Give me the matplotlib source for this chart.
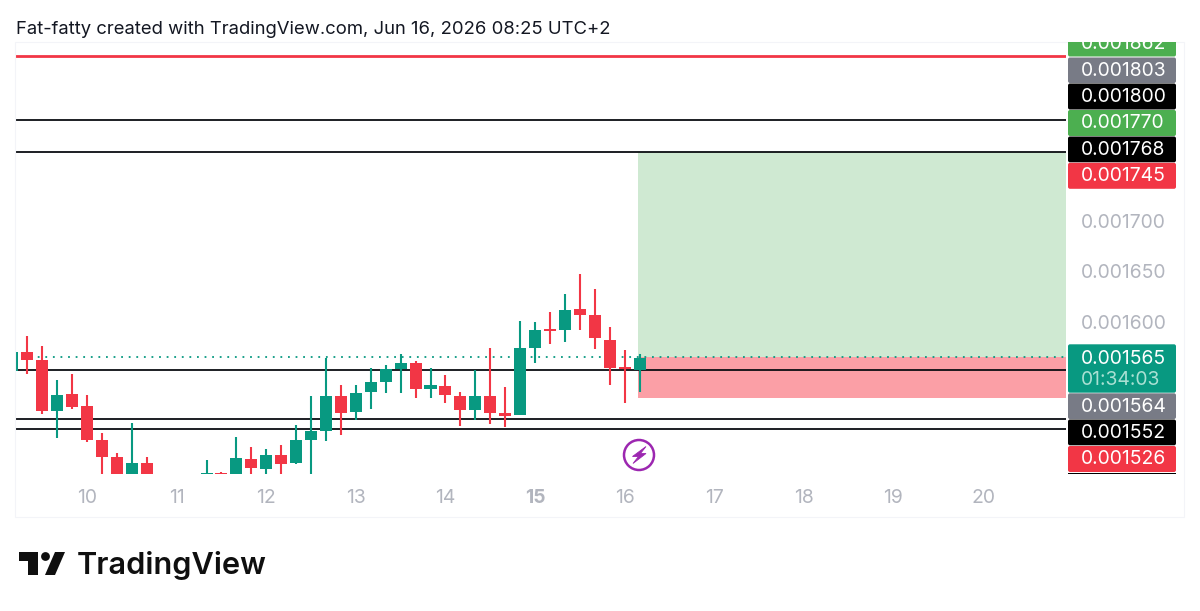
import matplotlib
matplotlib.use("Agg")
import matplotlib.pyplot as plt
from matplotlib.patches import FancyBboxPatch, Rectangle, Polygon, Circle

plt.rcParams['font.family'] = ['Inter', 'DejaVu Sans']

# 4h candles, prices in millionths (1e-6), index counted from day 10 00:00
candle_idx = list(range(-5, 38))
opens = [1551.5, 1570, 1562.7, 1511.9, 1528.7, 1517.2, 1483.5, 1466.7, 1445, 1460.4,
         1445, 1440, 1438, 1449, 1450.9, 1445, 1464.4, 1454.5, 1468.7, 1460,
         1483.5, 1492.4, 1526.8, 1510.6, 1530.7, 1540.6, 1553.8, 1559.8, 1534, 1536.3,
         1526.8, 1512.6, 1526.8, 1509.9, 1507.6, 1574.6, 1593.4, 1592, 1612.6, 1607,
         1582.5, 1555.5, 1552.5]
closes = [1570, 1562.7, 1511.9, 1527.8, 1516.2, 1483.5, 1466.7, 1445, 1460.4, 1445,
          1440, 1438, 1449, 1450.9, 1445, 1465.7, 1455.8, 1468.7, 1459.4, 1483.5,
          1492.4, 1526.8, 1509.6, 1529.7, 1540.6, 1553.8, 1559.4, 1534, 1537.6, 1527.7,
          1512.6, 1526.8, 1509.6, 1507.3, 1574.6, 1592.4, 1591.4, 1612.2, 1607, 1583.9,
          1554.5, 1553.8, 1564.7]
highs = [1570, 1586, 1576.6, 1542.6, 1548.9, 1527.8, 1489.8, 1470, 1499.7, 1466,
         1446, 1445, 1449, 1463.4, 1451.9, 1486.5, 1476, 1474, 1478, 1497.7,
         1526.8, 1564.7, 1537.3, 1537.3, 1554.2, 1557.4, 1568, 1561, 1554.2, 1547.9,
         1530.7, 1552.5, 1574.6, 1535.7, 1600.7, 1599.7, 1610.2, 1627.4, 1647.2, 1632.7,
         1594.7, 1572.3, 1568]
lows = [1551.5, 1548.5, 1509.3, 1484.9, 1514.2, 1480.9, 1440, 1440, 1440, 1440,
        1435, 1432, 1434, 1445, 1440, 1440, 1449, 1449, 1449, 1459.4,
        1449, 1482, 1488.2, 1503, 1514.2, 1529.4, 1529.4, 1525.1, 1525.1, 1519.8,
        1497.4, 1503, 1498.7, 1496.4, 1507.6, 1559, 1578.2, 1580.2, 1592.4, 1573.3,
        1538, 1520.2, 1531]

black_levels = [1800, 1768, 1552, 1504, 1494]
red_level = 1863
last_price = 1565
target = 1768
stop = 1525
price_ticks = [1600, 1650, 1700]
day_ticks = [10, 11, 12, 13, 14, 15, 16, 17, 18, 19, 20]

# label text, colour, top px, bottom px
price_labels = [
    ("0.001862", "#4CAF50", 30, 56.5),
    ("0.001803", "#787B86", 57.5, 83),
    ("0.001800", "#000000", 83.5, 109.5),
    ("0.001770", "#4CAF50", 110, 136),
    ("0.001768", "#000000", 136.5, 162.3),
    ("0.001745", "#F23645", 162.8, 188.8),
    ("0.001564", "#787B86", 393.3, 419),
    ("0.001552", "#000000", 419.5, 445.3),
    ("0.001526", "#F23645", 446, 472),
]

GREEN = "#089981"
RED = "#F23645"
LOGO = "#0F0F0F"

fig = plt.figure(figsize=(12, 6.11), dpi=100)
W, H = 1200, 611
ax = fig.add_axes([15 / W, 1 - 473.5 / H, (1066 - 15) / W, (473.5 - 42) / H])
ax.set_xlim(9.196, 20.926)
ax.set_ylim(1450, 1877.2)
for s in ax.spines.values():
    s.set_visible(False)

# long/short box
entry_x = 10 + 37 / 6 - 0.012
ax.add_patch(Rectangle((entry_x, last_price), 21 - entry_x, target - last_price,
                       fc="#CFE9D2", ec="none", zorder=1))
ax.add_patch(Rectangle((entry_x, stop), 21 - entry_x, last_price - stop,
                       fc="#FB9FA6", ec="none", zorder=1))

for lvl in black_levels:
    ax.axhline(lvl, color="#0B0D12", lw=1.3, zorder=2)
ax.axhline(red_level, color=RED, lw=2.0, zorder=2)
ax.axhline(last_price, color=GREEN, lw=1.3, ls=(0, (1, 3.2)), zorder=2)

for i, o, c, h, l in zip(candle_idx, opens, closes, highs, lows):
    x = 10 + i / 6
    col = GREEN if c >= o else RED
    ax.vlines(x, l, h, color=col, lw=1.5, zorder=3)
    ax.bar(x, abs(c - o), 0.134, bottom=min(o, c), color=col, zorder=4)

ax.yaxis.tick_right()
ax.set_yticks(price_ticks)
ax.set_yticklabels([f"0.00{p}" for p in price_ticks])
ax.set_xticks(day_ticks)
ax.set_xticklabels([str(d) for d in day_ticks])
ax.tick_params(axis="y", length=0, pad=10.5, labelsize=13.9, labelcolor="#B2B5BE")
ax.tick_params(axis="x", length=0, pad=11, labelsize=13.9, labelcolor="#B2B5BE")
ax.get_xticklabels()[5].set_fontweight("bold")

# overlay in pixels for the price tags, frame, badge and logo
ov = fig.add_axes([0, 0, 1, 1], facecolor="none")
ov.set_xlim(0, W)
ov.set_ylim(H, 0)
ov.axis("off")

ov.add_patch(Rectangle((15, 42), 1169, 475, fc="none", ec="#F3F4F8", lw=0.8))


def tag(top, bottom, color):
    p = FancyBboxPatch((1068, top), 108, bottom - top, boxstyle="round,pad=0,rounding_size=2",
                       fc=color, ec="none")
    ov.add_patch(p)
    return p


for txt, col, top, bot in price_labels:
    p = tag(top, bot, col)
    t = ov.text(1081, (top + bot) / 2 + 0.5, txt, color="white", fontsize=13.9, va="center", ha="left")
    if txt == "0.001862":
        clip = Rectangle((1060, 42), 130, 20, transform=ov.transData)
        p.set_clip_path(clip)
        t.set_clip_path(clip)
        t.set_clip_on(True)

tag(344.3, 392.7, GREEN)
ov.text(1081, 358.5, "0.001565", color="white", fontsize=13.9, va="center", ha="left")
ov.text(1081, 380, "01:34:03", color="#A9E0D3", fontsize=13.9, va="center", ha="left")
ov.add_patch(Rectangle((1068, 472.6), 108, 1.3, fc="black", ec="none"))

# lightning badge
ov.add_patch(Circle((639, 455), 15, fc="white", ec="#9C27B0", lw=1.8))
ov.add_patch(Polygon([(646, 446.5), (632.5, 456.5), (638.5, 456.5), (633, 463.5), (646, 453.5), (640.5, 453.5)],
                     fc="#9C27B0", ec="#9C27B0", lw=0.6))

# header
ov.text(16, 30, "Fat-fatty created with TradingView.com, Jun 16, 2026 08:25 UTC+2",
        color="#131722", fontsize=13.3, va="center", ha="left")

# logo
ov.add_patch(Polygon([(19, 552), (37.5, 552), (37.5, 575), (28, 575), (28, 561), (19, 561)], fc=LOGO, ec="none"))
ov.add_patch(Circle((45.5, 556.5), 4.4, fc=LOGO, ec="none"))
ov.add_patch(Polygon([(55, 552), (65, 552), (55, 575), (45, 575)], fc=LOGO, ec="none"))
ov.text(77, 565, "TradingView", color=LOGO, fontsize=22.1, fontweight="semibold", va="center", ha="left")

fig.savefig("out.png", dpi=100)
